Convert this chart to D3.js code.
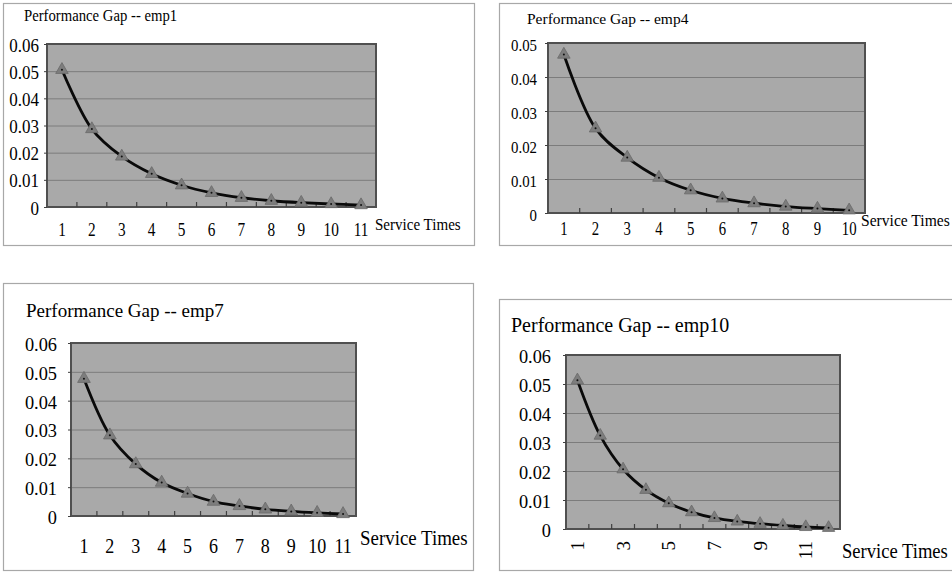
<!DOCTYPE html>
<html><head><meta charset="utf-8">
<script src="https://cdn.jsdelivr.net/npm/d3@7"></script>
<style>html,body{margin:0;padding:0;background:#fff;} svg{display:block;}</style>
</head><body>
<svg id="chart" width="952" height="572"></svg>
<script>
// ---------------- data ----------------
const titles = ["Performance Gap -- emp1", "Performance Gap -- emp4", "Performance Gap -- emp7", "Performance Gap -- emp10"];
const xAxisTitle = "Service Times";

const catsEmp1 = [1, 2, 3, 4, 5, 6, 7, 8, 9, 10, 11];
const gapEmp1 = [0.0505, 0.0287, 0.0186, 0.0122, 0.0080, 0.0052, 0.0034, 0.0023, 0.0016, 0.0011, 0.0007];

const catsEmp4 = [1, 2, 3, 4, 5, 6, 7, 8, 9, 10];
const gapEmp4 = [0.0466, 0.0249, 0.0163, 0.0104, 0.0067, 0.0043, 0.0029, 0.0019, 0.0013, 0.0008];

const catsEmp7 = [1, 2, 3, 4, 5, 6, 7, 8, 9, 10, 11];
const gapEmp7 = [0.0476, 0.0280, 0.0180, 0.0116, 0.0078, 0.0050, 0.0035, 0.0023, 0.0016, 0.0011, 0.0007];

const catsEmp10 = [1, 2, 3, 4, 5, 6, 7, 8, 9, 10, 11, 12];
const gapEmp10 = [0.0513, 0.0322, 0.0206, 0.0135, 0.0089, 0.0058, 0.0038, 0.0026, 0.0018, 0.0012, 0.0007, 0.0004];
const shownLabelsEmp10 = [1, 3, 5, 7, 9, 11];

const yTicksTo006 = [0, 0.01, 0.02, 0.03, 0.04, 0.05, 0.06];
const yTicksTo005 = [0, 0.01, 0.02, 0.03, 0.04, 0.05];

// ---------------- layout ----------------
const FONT = "'Liberation Serif','Times New Roman',serif";
const svg = d3.select("#chart");

const panels = [
  { cats: catsEmp1, vals: gapEmp1, yTicks: yTicksTo006, title: titles[0],
    frame: [3, 3, 474, 245], plot: [47, 44, 376, 207],
    titleX: 24, titleY: 21, titleSize: 16, titleSx: 0.92,
    yLabSize: 18.5, yLabSx: 0.92, yLabPad: 8, yLabOff: 1,
    xLabSize: 18, xLabSx: 0.85, xLabBase: 236,
    svcX: 375, svcY: 230, svcSize: 17.5, svcSx: 0.86, marker: 68 },
  { cats: catsEmp4, vals: gapEmp4, yTicks: yTicksTo005, title: titles[1],
    frame: [499, 3, 960, 245], plot: [548, 43, 865, 213],
    titleX: 527, titleY: 24, titleSize: 15.5, titleSx: 1,
    yLabSize: 15.8, yLabSx: 0.94, yLabPad: 11, yLabOff: 2,
    xLabSize: 18, xLabSx: 0.82, xLabBase: 235,
    svcX: 861, svcY: 226, svcSize: 16.6, svcSx: 0.94, marker: 68 },
  { cats: catsEmp7, vals: gapEmp7, yTicks: yTicksTo006, title: titles[2],
    frame: [3, 283, 473, 570], plot: [71, 343, 356, 516],
    titleX: 26, titleY: 317, titleSize: 19, titleSx: 1,
    yLabSize: 19.5, yLabSx: 0.94, yLabPad: 14, yLabOff: 1,
    xLabSize: 20, xLabSx: 0.9, xLabBase: 553,
    svcX: 360, svcY: 545, svcSize: 21, svcSx: 0.9, marker: 70 },
  { cats: catsEmp10, vals: gapEmp10, yTicks: yTicksTo006, title: titles[3],
    frame: [499, 299, 960, 570], plot: [566, 355, 840, 529],
    titleX: 511, titleY: 332, titleSize: 20, titleSx: 1,
    yLabSize: 19.5, yLabSx: 0.94, yLabPad: 15, yLabOff: 1,
    xLabSize: 19, xLabSx: 1, xLabTop: 541, rotated: true, shown: shownLabelsEmp10,
    svcX: 842, svcY: 558, svcSize: 20, svcSx: 0.93, marker: 66 }
];

function label(g, x, y, str, size, sx, anchor) {
  return g.append("text")
    .attr("transform", `translate(${x},${y}) scale(${sx},1)`)
    .attr("text-anchor", anchor || "start")
    .attr("font-family", FONT)
    .attr("font-size", size)
    .attr("fill", "#000")
    .text(str);
}

function drawPanel(p) {
  const g = svg.append("g");
  const [fx0, fy0, fx1, fy1] = p.frame;
  g.append("rect").attr("x", fx0 + 0.5).attr("y", fy0 + 0.5)
    .attr("width", fx1 - fx0).attr("height", fy1 - fy0)
    .attr("fill", "none").attr("stroke", "#a8a8a8").attr("stroke-width", 1.2);

  const [px0, py0, px1, py1] = p.plot;
  const x = d3.scaleBand().domain(p.cats).range([px0, px1]);
  const y = d3.scaleLinear().domain([0, d3.max(p.yTicks)]).range([py1, py0]);

  g.append("rect").attr("x", px0).attr("y", py0).attr("width", px1 - px0).attr("height", py1 - py0)
    .attr("fill", "#a9a9a9");

  // gridlines
  g.append("g").attr("transform", `translate(${px0},0)`)
    .call(d3.axisLeft(y).tickValues(p.yTicks).tickSize(-(px1 - px0)).tickFormat(""))
    .call(a => a.select(".domain").remove())
    .selectAll("line").attr("stroke", "#7c7c7c").attr("stroke-width", 1);

  // plot border
  g.append("rect").attr("x", px0).attr("y", py0).attr("width", px1 - px0).attr("height", py1 - py0)
    .attr("fill", "none").attr("stroke", "#505050").attr("stroke-width", 2);

  // category boundary ticks (inside, from x axis up)
  g.append("g").selectAll("line").data(p.cats.slice(1)).join("line")
    .attr("x1", d => x(d)).attr("x2", d => x(d))
    .attr("y1", py1).attr("y2", py1 - 5)
    .attr("stroke", "#404040").attr("stroke-width", 1.2);

  // y axis with labels
  const ya = g.append("g").attr("transform", `translate(${px0},0)`)
    .call(d3.axisLeft(y).tickValues(p.yTicks).tickSize(3)
      .tickFormat(d => d === 0 ? "0" : d3.format(".2f")(d)))
    .attr("color", "#404040");
  ya.select(".domain").remove();
  ya.selectAll("text")
    .attr("font-family", FONT).attr("font-size", p.yLabSize).attr("fill", "#000")
    .attr("dy", null)
    .attr("x", -p.yLabPad / p.yLabSx)
    .attr("y", 0.33 * p.yLabSize + p.yLabOff)
    .attr("transform", `scale(${p.yLabSx},1)`);

  // x axis labels
  const xa = g.append("g").attr("transform", `translate(0,${py1})`)
    .call(d3.axisBottom(x).tickSize(0)
      .tickFormat(d => (!p.shown || p.shown.includes(d)) ? String(d) : ""));
  xa.select(".domain").remove();
  const xt = xa.selectAll("text").attr("font-family", FONT).attr("font-size", p.xLabSize).attr("fill", "#000");
  if (p.rotated) {
    xt.attr("text-anchor", "end").attr("transform", "rotate(-90)")
      .attr("x", -(p.xLabTop - py1)).attr("y", 0).attr("dy", "0.35em");
  } else {
    xt.attr("dy", null).attr("y", p.xLabBase - py1).attr("transform", `scale(${p.xLabSx},1)`);
  }

  // series line
  const data = p.cats.map((c, i) => ({ c, v: p.vals[i] }));
  const line = d3.line()
    .x(d => x(d.c) + x.bandwidth() / 2)
    .y(d => y(d.v))
    .curve(d3.curveCatmullRom.alpha(0.5));
  g.append("path").datum(data).attr("d", line)
    .attr("fill", "none").attr("stroke", "#0a0a0a").attr("stroke-width", 2.8)
    .attr("stroke-linejoin", "round");

  // markers
  const m = g.append("g").selectAll("g").data(data).join("g")
    .attr("transform", d => `translate(${x(d.c) + x.bandwidth() / 2},${y(d.v)})`);
  m.append("path").attr("d", d3.symbol(d3.symbolTriangle, p.marker))
    .attr("fill", "#7d7d7d").attr("stroke", "#6a6a6a").attr("stroke-width", 0.8);
  m.append("circle").attr("r", 1).attr("fill", "#111");

  // texts
  label(g, p.titleX, p.titleY, p.title, p.titleSize, p.titleSx);
  label(g, p.svcX, p.svcY, xAxisTitle, p.svcSize, p.svcSx);
}

panels.forEach(drawPanel);
</script>
</body></html>
